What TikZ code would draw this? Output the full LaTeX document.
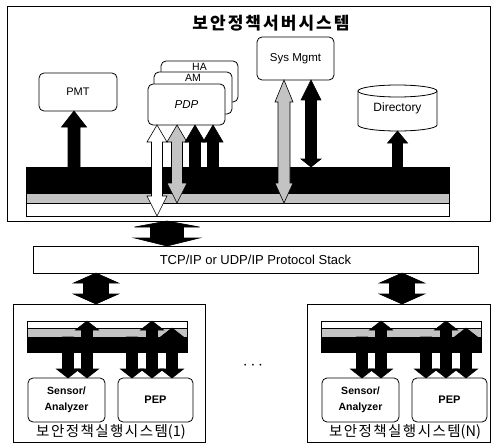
\documentclass[tikz,border=0pt]{standalone}
\usepackage{fontspec}
\setmainfont{Liberation Sans}
\newfontfamily\krfont{Noto Sans CJK KR}[LetterSpace=10]
\newfontfamily\krplain{Noto Sans CJK KR}
\newfontfamily\krtitle{Noto Sans CJK KR}[LetterSpace=12]
\usetikzlibrary{calc, positioning}
\definecolor{stipple}{RGB}{195,195,195}
\tikzset{
  frame/.style={draw, line width=0.8pt, fill=white, anchor=north west,
    inner sep=0pt, outer sep=0pt},
  band/.style={draw, line width=0.6pt, anchor=north west, inner sep=0pt, outer sep=0pt},
  box/.style={draw, line width=0.8pt, fill=white, rounded corners=5pt, anchor=north west,
    inner sep=0pt, outer sep=0pt, align=center, font=\fontsize{11}{13}\selectfont},
  lbl/.style={font=\fontsize{10.5}{11}\selectfont, inner sep=0pt},
  shaft/.store in=\fatsw, tipw/.store in=\fattw, tipl/.store in=\fattl, tailtip/.store in=\fatbl,
  shaft=5.5pt, tipw=10pt, tipl=16pt, tailtip=16pt,
  fat/.style={draw=black, line width=0.6pt, fill=#1, line join=miter},
  fat/.default=black,
  onehead/.style={to path={let \p1=(\tikztostart), \p2=(\tikztotarget),
      \n1={ifthenelse(\y2>\y1,1,-1)}, \n2={\y2-\n1*\fattl} in
      (\x1-\fatsw,\y1) -- (\x1-\fatsw,\n2*1pt) -- (\x1-\fattw,\n2*1pt) -- (\x1,\y2)
      -- (\x1+\fattw,\n2*1pt) -- (\x1+\fatsw,\n2*1pt) -- (\x1+\fatsw,\y1) -- cycle}},
  twohead/.style={to path={let \p1=(\tikztostart), \p2=(\tikztotarget),
      \n1={ifthenelse(\y2>\y1,1,-1)}, \n2={\y2-\n1*\fattl}, \n3={\y1+\n1*\fatbl} in
      (\x1,\y1) -- (\x1-\fattw,\n3*1pt) -- (\x1-\fatsw,\n3*1pt) -- (\x1-\fatsw,\n2*1pt)
      -- (\x1-\fattw,\n2*1pt) -- (\x1,\y2) -- (\x1+\fattw,\n2*1pt) -- (\x1+\fatsw,\n2*1pt)
      -- (\x1+\fatsw,\n3*1pt) -- (\x1+\fattw,\n3*1pt) -- cycle}}
}
\begin{document}
\begin{tikzpicture}[x=1pt, y=-1pt]
  \useasboundingbox (0,0) rectangle (493,444);

  % Server system
  \node[frame, minimum width=483pt, minimum height=215pt] (srv) at (7,6) {};
  \node[font=\krtitle\bfseries\fontsize{17}{19}\selectfont] (title) at (271,23) {보안정책서버시스템};

  % Bus layers
  \node[band, fill=black, minimum width=423pt, minimum height=26pt] (sblk) at (26,167) {};
  \node[band, fill=stipple, minimum width=423pt, minimum height=10pt] (sgry) at (26,193) {};
  \node[band, fill=white, minimum width=423pt, minimum height=13pt] (swht) at (26,203) {};

  % Modules
  \node[box, minimum width=78pt, minimum height=38pt] (pmt) at (39,73) {PMT};
  \node[box, minimum width=77pt, minimum height=41pt] (ha) at (161,61) {};
  \node[lbl, below=2pt of ha.north] {HA};
  \node[box, minimum width=78pt, minimum height=42pt] (am) at (154,72) {};
  \node[lbl, below=2pt of am.north] {AM};
  \node[box, minimum width=77pt, minimum height=41pt, font=\itshape\fontsize{11.5}{13}\selectfont] (pdp) at (148,84) {PDP};
  \node[box, minimum width=77pt, minimum height=43pt, font=\fontsize{11.5}{13}\selectfont] (sys) at (257,37) {Sys Mgmt};

  % Directory
  \draw[fill=white, line width=0.8pt] (358,91) -- (358,125)
    arc[start angle=180, end angle=360, x radius=39.5pt, y radius=6pt] -- (437,91);
  \draw[fill=white, line width=0.8pt] (397.5,91) ellipse[x radius=39.5pt, y radius=6pt];
  \node[lbl, font=\fontsize{12}{14}\selectfont] (dir) at (397.5,108) {Directory};
  \coordinate (dirbot) at (397.5,131);

  % Arrows to the bus
  \coordinate (pmtx) at ([xshift=-4pt]pmt.south);
  \draw[fat, onehead, shaft=6pt, tipw=12.5pt, tipl=16pt] (pmtx |- sblk.north) to (pmtx);
  \coordinate (pd1) at ([xshift=9pt]pdp.south west);
  \coordinate (pd2) at ([xshift=29pt]pdp.south west);
  \coordinate (pd3) at ([xshift=47pt]pdp.south west);
  \coordinate (pd4) at ([xshift=65pt]pdp.south west);
  \draw[fat=white, twohead, tailtip=17pt, tipl=20pt] (pd1) to (pd1 |- swht.south);
  \draw[fat=stipple, twohead, tailtip=17pt, tipl=20pt] (pd2) to (pd2 |- sgry.south);
  \draw[fat, onehead, tipl=17pt] (pd3 |- sblk.north) to (pd3);
  \draw[fat, onehead, tipl=17pt] (pd4 |- sblk.north) to (pd4);
  \coordinate (sy1) at ([xshift=27pt]sys.south west);
  \coordinate (sy2) at ([xshift=54pt]sys.south west);
  \draw[fat=stipple, twohead, shaft=6pt, tipw=9pt, tailtip=22pt, tipl=20pt] (sy1) to (sy1 |- sgry.south);
  \draw[fat, twohead, tailtip=20pt, tipl=8pt] (sy2) to (sy2 |- sblk.north);
  \draw[fat, onehead, shaft=5pt, tipw=10pt, tipl=12pt] (dirbot |- sblk.north) to (dirbot);

  % Protocol stack
  \node[frame, minimum width=445pt, minimum height=27pt, font=\fontsize{13}{15}\selectfont] (tcp) at (33,246) {TCP/IP or UDP/IP Protocol Stack};
  \coordinate (upx) at (167,0);
  \draw[fat, twohead, shaft=16.5pt, tipw=32.5pt, tailtip=6pt, tipl=8pt] (upx |- srv.south) to (upx |- tcp.north);

  \node[font=\fontsize{16}{16}\selectfont] (dots) at (253,366) {$\cdots$};

  % Enforcement systems
  \foreach \dx/\id/\sysno/\bw/\ax in {0/a/1/192pt/96, 294/b/N/183pt/402} {
    \node[frame, minimum width=\bw, minimum height=138pt] (ex\id) at (13+\dx,304) {};
    \node[band, fill=white, minimum width=160pt, minimum height=7pt] (ew\id) at (27+\dx,321) {};
    \node[band, fill=stipple, minimum width=160pt, minimum height=9pt] (eg\id) at (27+\dx,328) {};
    \node[band, fill=black, minimum width=160pt, minimum height=15pt] (ek\id) at (27+\dx,337) {};
    \node[box, minimum width=77pt, minimum height=44pt, font=\bfseries\fontsize{10.5}{16}\selectfont] (sen\id) at (28+\dx,378) {Sensor/\\Analyzer};
    \node[box, minimum width=75pt, minimum height=44pt, font=\bfseries\fontsize{11}{13}\selectfont] (pep\id) at (118+\dx,378) {PEP};
    \node[font=\fontsize{14.5}{15}\selectfont] (lb\id) at (111+\dx,432) {\krfont 보안정책실행시스템\krplain(\sysno)};
    \coordinate (e1\id) at ([xshift=40pt]sen\id.north west);
    \coordinate (e2\id) at ([xshift=59pt]sen\id.north west);
    \coordinate (e3\id) at ([xshift=14pt]pep\id.north west);
    \coordinate (e4\id) at ([xshift=34pt]pep\id.north west);
    \coordinate (e5\id) at ([xshift=54pt]pep\id.north west);
    \draw[fat, onehead, tipw=11.5pt, tipl=9pt] (e1\id |- ek\id.north) to (e1\id);
    \draw[fat, twohead, tipw=11.5pt, tipl=9pt, tailtip=9pt] (e2\id) to (e2\id |- ew\id.north);
    \draw[fat, onehead, tipw=11.5pt, tipl=9pt] (e3\id |- ek\id.north) to (e3\id);
    \draw[fat, twohead, tipw=11.5pt, tipl=9pt, tailtip=9pt] (e4\id) to (e4\id |- ew\id.north);
    \draw[fat, twohead, tipw=11.5pt, tipl=9pt, tailtip=9pt] (e5\id) to (e5\id |- eg\id.north);
    \coordinate (t\id) at (\ax,0);
    \draw[fat, twohead, shaft=12.5pt, tipw=22.5pt, tailtip=10pt, tipl=10pt] (t\id |- tcp.south) to (t\id |- ex\id.north);
  }
\end{tikzpicture}
\end{document}
